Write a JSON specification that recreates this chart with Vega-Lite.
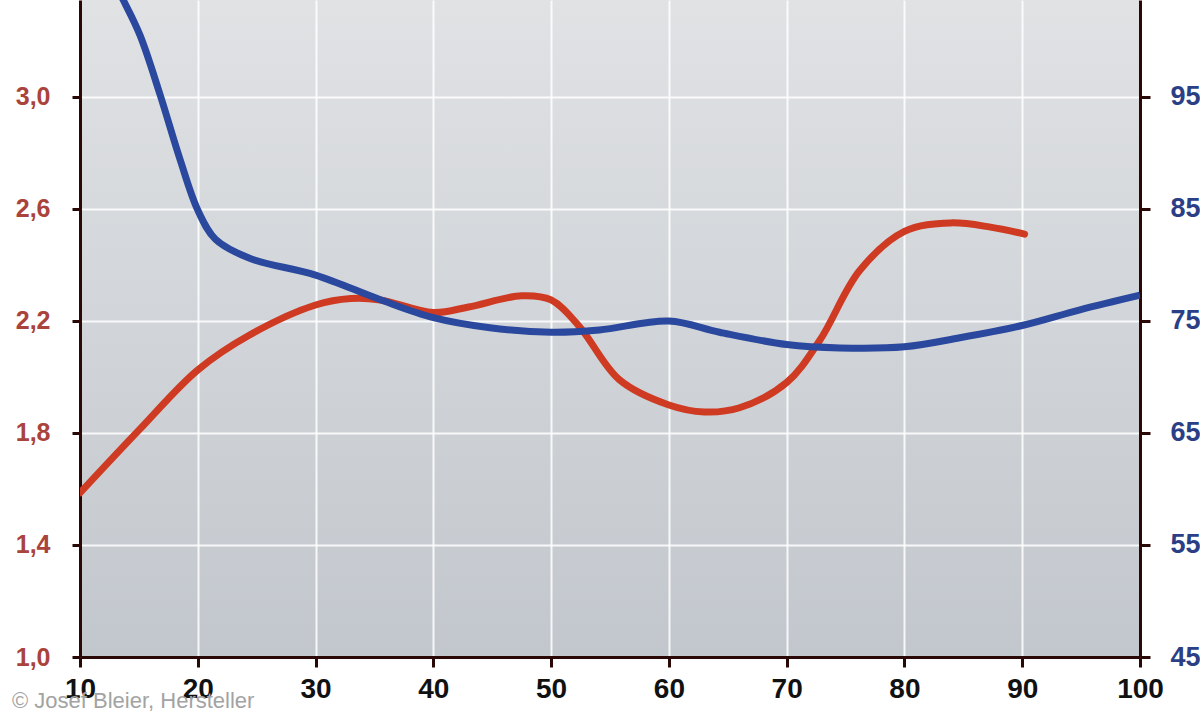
{
  "$schema": "https://vega.github.io/schema/vega-lite/v6.json",
  "width": 1060,
  "height": 657,
  "autosize": {"type": "none"},
  "padding": {"left": 80, "top": 0, "right": 60, "bottom": 63},
  "background": "#ffffff",
  "config": {
    "font": "Liberation Sans",
    "view": {
      "stroke": null,
      "fill": {"gradient": "linear", "x1": 0, "y1": 0, "x2": 0, "y2": 1,
        "stops": [{"offset": 0, "color": "#e0e2e4"}, {"offset": 1, "color": "#c2c7cd"}]}
    },
    "axis": {
      "domainColor": "#2a0806", "domainWidth": 3, "tickColor": "#2a0806", "tickWidth": 3,
      "labelFontWeight": "bold", "labelFont": "Liberation Sans", "titleFontSize": 0,
      "gridColor": "#ffffff", "gridWidth": 2, "gridOpacity": 0.85
    }
  },
  "title": {
    "text": "© Josef Bleier, Hersteller",
    "orient": "bottom", "anchor": "start", "frame": "group",
    "dx": -68, "dy": -12, "offset": 0,
    "fontSize": 22, "fontWeight": "normal", "color": "#a3a3a3", "font": "Liberation Sans"
  },
  "layer": [
    {
      "data": {"values": [
        {"x": 10, "v": 1.586}, {"x": 15, "v": 1.81}, {"x": 20, "v": 2.025},
        {"x": 24.4, "v": 2.15}, {"x": 30, "v": 2.257}, {"x": 33, "v": 2.28},
        {"x": 35.5, "v": 2.275}, {"x": 40, "v": 2.23}, {"x": 43, "v": 2.25},
        {"x": 47.5, "v": 2.29}, {"x": 50, "v": 2.275}, {"x": 52.4, "v": 2.18},
        {"x": 55.8, "v": 1.99}, {"x": 60, "v": 1.9}, {"x": 63, "v": 1.875},
        {"x": 66, "v": 1.89}, {"x": 70, "v": 1.98}, {"x": 72.8, "v": 2.13},
        {"x": 76.2, "v": 2.38}, {"x": 80, "v": 2.52}, {"x": 83.9, "v": 2.55},
        {"x": 87.3, "v": 2.535}, {"x": 90.2, "v": 2.51}
      ]},
      "mark": {"type": "line", "color": "#cf3a22", "strokeWidth": 7, "interpolate": "catmull-rom", "clip": true, "strokeCap": "round"},
      "encoding": {
        "x": {"field": "x", "type": "quantitative",
          "scale": {"domain": [10, 100], "nice": false},
          "axis": {"values": [10, 20, 30, 40, 50, 60, 70, 80, 90, 100], "title": null,
            "labelFontSize": 28, "labelColor": "#111111", "tickSize": 10, "labelPadding": 8,
            "grid": true, "labelFlush": false}},
        "y": {"field": "v", "type": "quantitative",
          "scale": {"domain": [1.0, 3.346], "nice": false, "zero": false},
          "axis": {"values": [1.0, 1.4, 1.8, 2.2, 2.6, 3.0], "title": null,
            "labelExpr": "replace(format(datum.value, '.1f'), '.', ',')",
            "labelFontSize": 25, "labelColor": "#aa433b", "tickSize": 8, "labelPadding": 22,
            "grid": true, "labelFlush": false}}
      }
    },
    {
      "data": {"values": [
        {"x": 10, "v": 110.5}, {"x": 12, "v": 107}, {"x": 13.65, "v": 103.7},
        {"x": 15.1, "v": 100.5}, {"x": 16.8, "v": 95.2}, {"x": 18.5, "v": 89.4},
        {"x": 20, "v": 84.9}, {"x": 21.5, "v": 82.3}, {"x": 24.4, "v": 80.6},
        {"x": 30, "v": 79.1}, {"x": 35.5, "v": 76.9}, {"x": 40, "v": 75.3},
        {"x": 44.8, "v": 74.4}, {"x": 50, "v": 74.0}, {"x": 54.1, "v": 74.2},
        {"x": 60, "v": 75.0}, {"x": 64.3, "v": 74.0}, {"x": 70, "v": 72.9},
        {"x": 74.5, "v": 72.6}, {"x": 80, "v": 72.7}, {"x": 84.7, "v": 73.5},
        {"x": 90, "v": 74.6}, {"x": 94.9, "v": 76.0}, {"x": 100, "v": 77.3}
      ]},
      "mark": {"type": "line", "color": "#2a489d", "strokeWidth": 7, "interpolate": "catmull-rom", "clip": true},
      "encoding": {
        "x": {"field": "x", "type": "quantitative"},
        "y": {"field": "v", "type": "quantitative",
          "scale": {"domain": [45, 103.66], "nice": false, "zero": false},
          "axis": {"orient": "right", "values": [45, 55, 65, 75, 85, 95], "title": null,
            "labelFontSize": 27, "labelColor": "#2b3f86", "tickSize": 10,
            "labelPadding": 20, "grid": false, "labelFlush": false}}
      }
    }
  ],
  "resolve": {"scale": {"y": "independent"}}
}
